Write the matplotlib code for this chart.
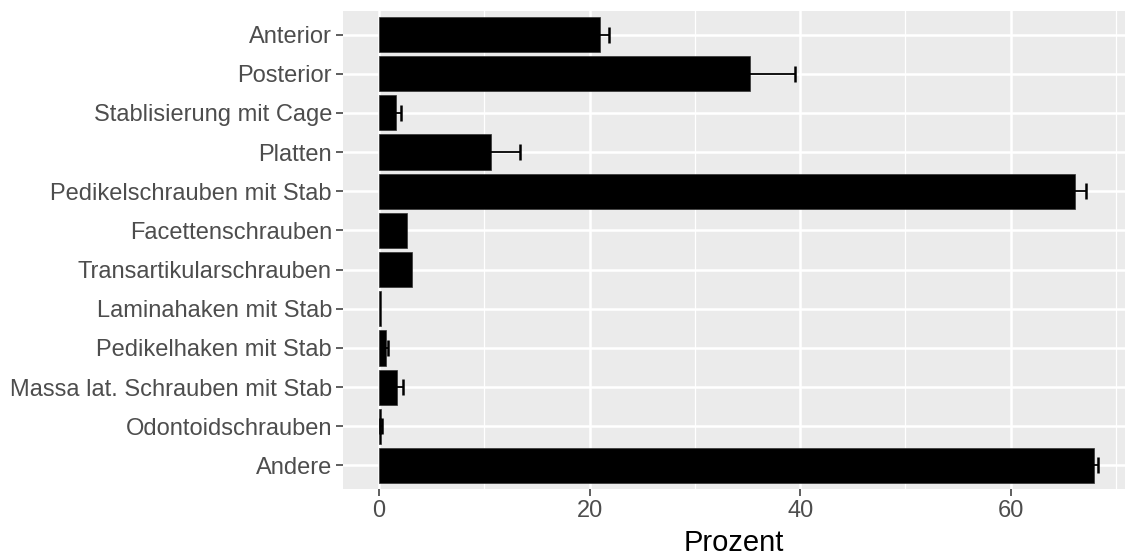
import matplotlib
matplotlib.use("Agg")
import matplotlib.pyplot as plt
import numpy as np

plt.rcParams['font.family'] = ['Liberation Sans', 'DejaVu Sans']

categories = ["Anterior", "Posterior", "Stablisierung mit Cage", "Platten",
              "Pedikelschrauben mit Stab", "Facettenschrauben",
              "Transartikularschrauben", "Laminahaken mit Stab",
              "Pedikelhaken mit Stab", "Massa lat. Schrauben mit Stab",
              "Odontoidschrauben", "Andere"]
prozent = [21.0, 35.2, 1.6, 10.6, 66.1, 2.7, 3.1, 0.15, 0.7, 1.7, 0.2, 67.9]
fehler = [0.8, 4.3, 0.5, 2.8, 1.0, 0.0, 0.0, 0.0, 0.2, 0.55, 0.1, 0.4]

fig = plt.figure(figsize=(11.25, 5.59), dpi=100)
ax = fig.add_axes([343/1125, 70/559, 1 - 343/1125, 478/559])

# ggplot grey theme
ax.set_facecolor("#EBEBEB")
for s in ax.spines.values():
    s.set_visible(False)

y = np.arange(len(categories))
werte = np.array(prozent)
err = np.array(fehler)
ax.barh(y, werte, height=0.9, color="black", edgecolor="#333333", linewidth=0.5, zorder=3)

# only draw error bars where there is an error
m = err > 0
ax.errorbar(werte[m], y[m], xerr=err[m], fmt="none", ecolor="black", elinewidth=1.3,
            capsize=5.5, capthick=1.8, zorder=4)

ax.set_xlim(-3.42, 70.85)
ax.set_ylim(len(categories) - 0.4, -0.6)
ax.set_yticks(y)
ax.set_yticklabels(categories)
ax.set_xticks([0, 20, 40, 60])
ax.set_xticks([10, 30, 50, 70], minor=True)
ax.tick_params(axis="both", which="major", colors="#333333", labelcolor="#4D4D4D",
               labelsize=17, length=5, width=1.1)
ax.tick_params(axis="x", which="minor", length=0)
ax.tick_params(axis="y", pad=3)
ax.tick_params(axis="x", pad=3)

ax.grid(True, which="major", color="white", linewidth=1.8, zorder=0)
ax.grid(True, which="minor", axis="x", color="white", linewidth=0.9, zorder=0)
ax.set_axisbelow(True)

ax.set_xlabel("Prozent", fontsize=21, color="black", labelpad=5)

fig.savefig("out.png", dpi=100)
